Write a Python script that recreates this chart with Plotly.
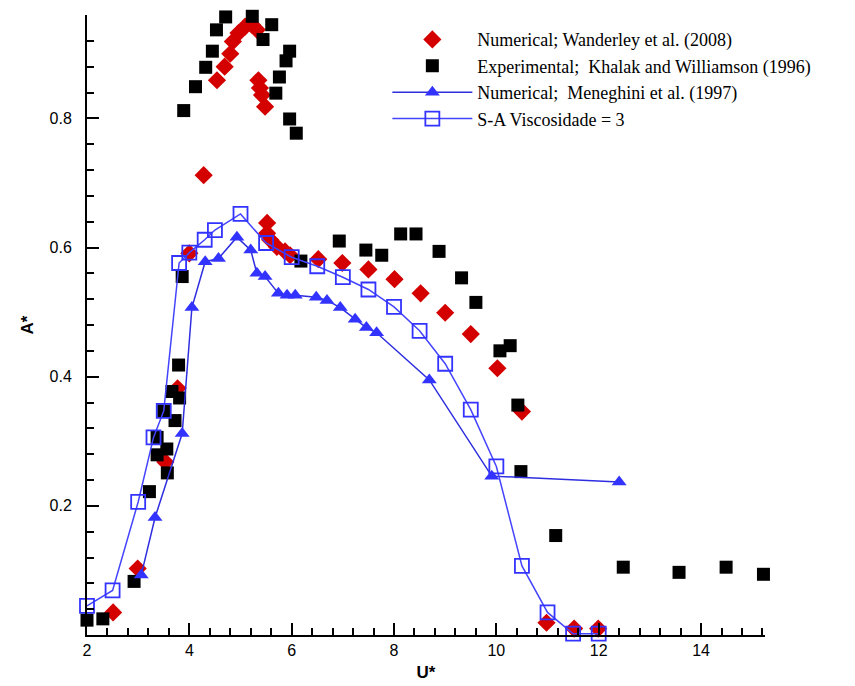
import plotly.graph_objects as go

# Numerical; Wanderley et al. (2008)
wand_x = [1.99, 2.51, 2.99, 3.53, 3.77, 4.0, 4.28, 4.54, 4.69, 4.8, 4.85, 4.96, 5.09, 5.22, 5.32,
          5.35, 5.38, 5.42, 5.48, 5.52, 5.52, 5.58, 5.71, 5.87, 5.97, 6.52, 6.99, 7.5, 8.01, 8.52,
          9.0, 9.5, 10.02, 10.5, 10.98, 11.52, 11.99]
wand_y = [0.008, 0.035, 0.103, 0.268, 0.382, 0.591, 0.712, 0.859, 0.88, 0.9, 0.919, 0.932, 0.942, 0.945, 0.937,
          0.859, 0.847, 0.836, 0.818, 0.638, 0.622, 0.612, 0.601, 0.594, 0.588, 0.582, 0.576, 0.566, 0.551, 0.529,
          0.499, 0.466, 0.413, 0.346, 0.019, 0.01, 0.01]

# Experimental; Khalak and Williamson (1996)
kw_x = [2.0, 2.31, 2.92, 3.22, 3.37, 3.37, 3.5, 3.56, 3.57, 3.66, 3.72, 3.81, 3.79, 3.86,
        3.89, 4.12, 4.32, 4.45, 4.53, 4.71, 4.93, 5.23, 5.61, 5.44, 5.96, 5.89, 5.76, 5.69, 5.96, 6.09,
        6.18, 6.93, 7.45, 7.76, 8.13, 8.43, 8.88, 9.32, 9.6, 10.07, 10.27, 10.42, 10.48, 11.16,
        12.48, 13.57, 14.49, 15.22]
kw_y = [0.023, 0.025, 0.083, 0.222, 0.279, 0.306, 0.347, 0.288, 0.251, 0.377, 0.332, 0.367, 0.418, 0.555,
        0.812, 0.849, 0.879, 0.904, 0.937, 0.957, 0.962, 0.958, 0.945, 0.922, 0.904, 0.889, 0.864, 0.839, 0.799, 0.777,
        0.579, 0.61, 0.596, 0.588, 0.621, 0.621, 0.594, 0.553, 0.515, 0.44, 0.448, 0.356, 0.253, 0.154,
        0.105, 0.097, 0.105, 0.094]

# Numerical; Meneghini et al. (1997)
men_x = [3.06, 3.33, 3.86, 4.05, 4.31, 4.57, 4.93, 5.2, 5.32, 5.48, 5.74, 5.91, 6.07, 6.48, 6.69,
         6.95, 7.24, 7.46, 7.66, 8.69, 9.91, 12.4]
men_y = [0.093, 0.182, 0.312, 0.507, 0.578, 0.583, 0.616, 0.596, 0.56, 0.555, 0.529, 0.526, 0.526, 0.523, 0.518,
         0.507, 0.489, 0.476, 0.468, 0.395, 0.246, 0.237]

# S-A Viscosidade = 3
sa_x = [2.0, 2.5, 3.0, 3.3, 3.5, 3.8, 4.0, 4.3, 4.5, 5.0, 5.5, 6.0, 6.5, 7.0, 7.5, 8.0, 8.5, 9.0, 9.5,
        10.0, 10.5, 11.0, 11.5, 12.0]
sa_y = [0.045, 0.069, 0.206, 0.306, 0.347, 0.576, 0.592, 0.612, 0.627, 0.652, 0.607, 0.585, 0.571, 0.554,
        0.535, 0.508, 0.471, 0.42, 0.349, 0.261, 0.107, 0.035, 0.002, 0.002]

x_ticks = [2, 4, 6, 8, 10, 12, 14]
y_ticks = [0.2, 0.4, 0.6, 0.8]
y_ticktext = ["0.2", "0.4", "0.6", "0.8"]

fig = go.Figure()
fig.add_trace(go.Scatter(x=wand_x, y=wand_y, mode="markers", name="Numerical; Wanderley et al. (2008)",
                         marker=dict(symbol="diamond", size=14, color="#d40000"), cliponaxis=False))
fig.add_trace(go.Scatter(x=kw_x, y=kw_y, mode="markers", name="Experimental;  Khalak and Williamson (1996)",
                         marker=dict(symbol="square", size=13, color="black"), cliponaxis=False))
fig.add_trace(go.Scatter(x=men_x, y=men_y, mode="lines+markers", name="Numerical;  Meneghini et al. (1997)",
                         line=dict(color="#2e2ee0", width=1.5),
                         marker=dict(symbol="triangle-up", size=13, color="#3333ff"), cliponaxis=False))
fig.add_trace(go.Scatter(x=sa_x, y=sa_y, mode="lines+markers", name="S-A Viscosidade = 3",
                         line=dict(color="#4444ff", width=1.5),
                         marker=dict(symbol="square-open", size=14, color="#3333ff", line=dict(width=1.8)),
                         cliponaxis=False))

tickfont = dict(family="Liberation Sans, Arial, sans-serif", size=16, color="black")
titlefont = dict(family="Liberation Sans, Arial, sans-serif", size=17, color="black")
fig.update_xaxes(range=[2, 15.25], tickvals=x_ticks, ticks="inside", ticklen=12, tickwidth=1.5,
                 tickcolor="black", showline=True, linecolor="black", linewidth=2, showgrid=False,
                 zeroline=False, tickfont=tickfont, automargin=False,
                 minor=dict(dtick=0.4, tick0=2, ticks="inside", ticklen=7, tickwidth=1.5, tickcolor="black", showgrid=False),
                 title=dict(text="<b>U*</b>", font=titlefont, standoff=8))
fig.update_yaxes(range=[0, 0.96], tickvals=y_ticks, ticktext=y_ticktext, ticks="inside",
                 ticklen=12, tickwidth=1.5, tickcolor="black", showline=True, linecolor="black", linewidth=2,
                 showgrid=False, zeroline=False, tickfont=tickfont, ticklabelstandoff=10, automargin=False,
                 minor=dict(dtick=0.04, tick0=0, ticks="inside", ticklen=7, tickwidth=1.5, tickcolor="black", showgrid=False),
                 title=dict(text="<b>A*</b>", font=titlefont, standoff=12))

fig.update_layout(
    width=855, height=686,
    margin=dict(l=87, r=90, t=15, b=51),
    plot_bgcolor="white", paper_bgcolor="white",
    showlegend=True,
    legend=dict(x=0.443, y=0.99, xanchor="left", yanchor="top", bgcolor="rgba(0,0,0,0)",
                font=dict(family="Liberation Serif, Times New Roman, serif", size=18, color="black"),
                itemwidth=80, tracegroupgap=0),
)

fig.write_html("out.html")
